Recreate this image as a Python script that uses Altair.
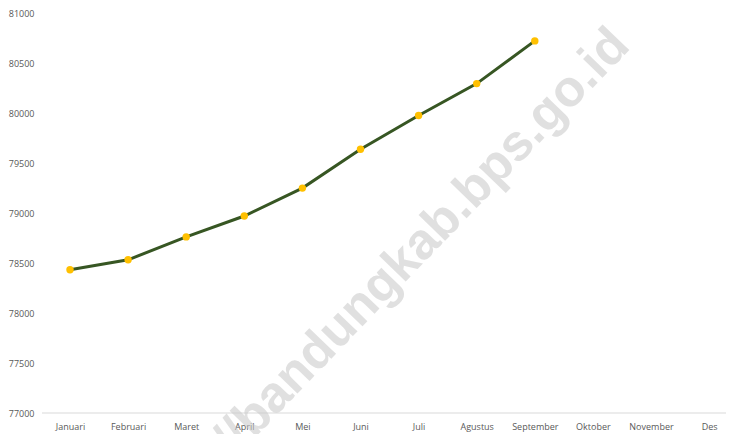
import altair as alt
import pandas as pd

months = ["Januari", "Februari", "Maret", "April", "Mei", "Juni", "Juli",
          "Agustus", "September", "Oktober", "November", "Des"]
values = [78433, 78532, 78761, 78970, 79249, 79637, 79975, 80294, 80721]
y_ticks = [77000, 77500, 78000, 78500, 79000, 79500, 80000, 80500, 81000]
watermark = "//bandungkab.bps.go.id"

df = pd.DataFrame({"bulan": months[:len(values)], "nilai": values})

W, H = 684, 400

xscale = alt.Scale(domain=months, range=[28, 28 + 11 * 58.1], padding=0)
yscale = alt.Scale(domain=[77000, 81000], nice=False, zero=False)

xaxis = alt.Axis(title=None, domain=False, ticks=False, grid=False, labelAngle=0,
                 labelFont="Open Sans", labelFontSize=9, labelColor="#595959",
                 labelPadding=9)
yaxis = alt.Axis(title=None, domain=False, ticks=False, grid=False, values=y_ticks,
                 format="d",
                 labelFont="Open Sans", labelFontSize=9, labelColor="#595959",
                 labelPadding=8)

base = alt.Chart(df)

baseline = base.mark_rule(color="#d9d9d9", strokeWidth=1.2).encode(
    x=alt.value(0), x2=alt.value(W), y=alt.value(H)
).transform_filter("datum.bulan == 'Januari'")

line = base.mark_line(color="#375623", strokeWidth=3).encode(
    x=alt.X("bulan:O", scale=xscale, axis=xaxis, sort=months),
    y=alt.Y("nilai:Q", scale=yscale, axis=yaxis),
)

points = base.mark_point(filled=True, color="#FFC000", opacity=1, size=55, shape="circle").encode(
    x=alt.X("bulan:O", scale=xscale, sort=months),
    y=alt.Y("nilai:Q", scale=yscale),
)

wm = alt.Chart(pd.DataFrame({"t": [watermark]})).mark_text(
    angle=314, font="Liberation Sans", fontWeight="bold", fontSize=51,
    color="#c8c8c8", opacity=0.55, align="center", baseline="middle"
).encode(text="t:N", x=alt.value(380), y=alt.value(230))

chart = alt.layer(baseline, line, points, wm).properties(
    width=W, height=H,
    autosize=alt.AutoSizeParams(type="none"),
    padding={"left": 34, "top": 5, "right": 0, "bottom": 21},
).configure_view(stroke=None)

chart.save("out.html", embed_options={"renderer": "svg", "actions": False})
